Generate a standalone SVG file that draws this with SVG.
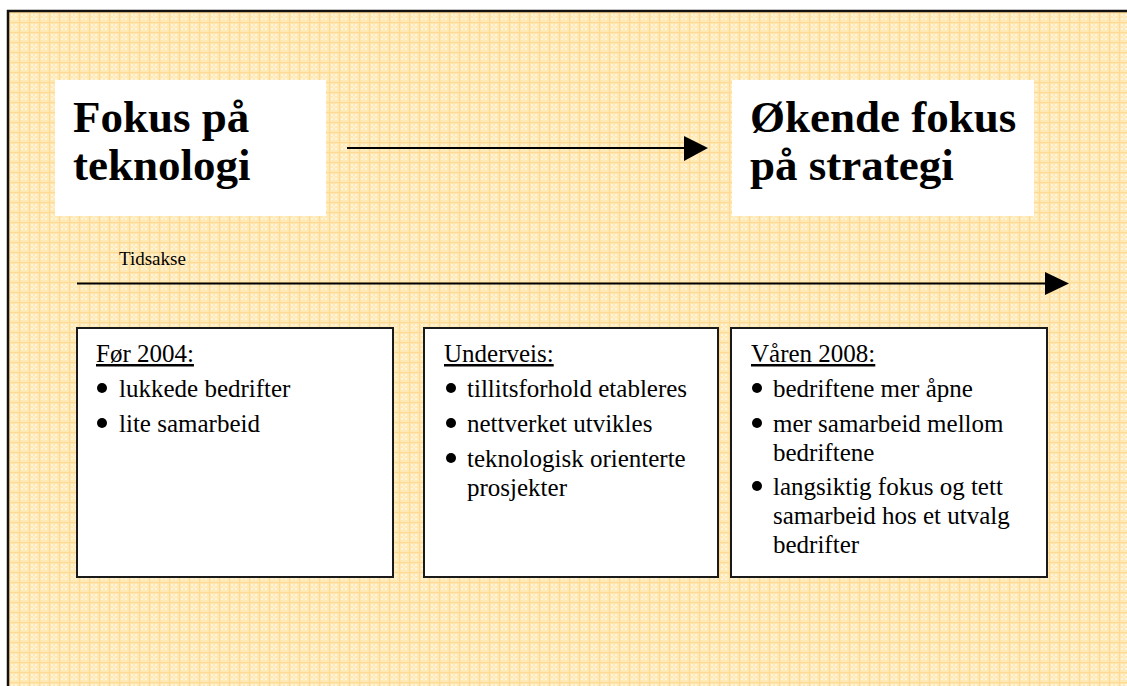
<svg xmlns="http://www.w3.org/2000/svg" width="1127" height="686" viewBox="0 0 1127 686">
<defs>
<pattern id="grid" x="9" y="12" width="10" height="10" patternUnits="userSpaceOnUse">
<rect width="10" height="10" fill="#FFE9B4"/>
<rect x="2" y="2" width="2" height="2" fill="#FFF5DE"/>
<rect x="6" y="2" width="2" height="2" fill="#FFF5DE"/>
<rect x="2" y="6" width="2" height="2" fill="#FFF5DE"/>
<rect x="6" y="6" width="2" height="2" fill="#FFF5DE"/>
<rect x="4" y="4" width="2" height="2" fill="#FFF1D0"/>
<rect x="0" y="0" width="10" height="1.2" fill="#FFDA96"/>
<rect x="0" y="0" width="1.2" height="10" fill="#FFDA96"/>
</pattern>
<style>
.big{font-family:"Liberation Serif","Times New Roman",serif;font-weight:bold;font-size:45px;fill:#000}
.t{font-family:"Liberation Serif","Times New Roman",serif;font-size:25px;fill:#000}
.h{text-decoration:underline}
.box{fill:#fff;stroke:#1a1a1a;stroke-width:2}
.ln{stroke:#000;stroke-width:2;fill:none}
</style>
</defs>
<rect x="0" y="0" width="1127" height="686" fill="#fff"/>
<rect x="9" y="12" width="1118" height="674" fill="url(#grid)"/>
<path d="M8 686 V11 H1127" fill="none" stroke="#111" stroke-width="2.5"/>

<g id="node-fokus-teknologi">
<rect x="55" y="80" width="271" height="136" fill="#fff"/>
<text class="big" x="73" y="132">Fokus på</text>
<text class="big" x="73" y="180">teknologi</text>
</g>

<g id="node-okende-fokus">
<rect x="732" y="80" width="302" height="136" fill="#fff"/>
<text class="big" x="750" y="132">Økende fokus</text>
<text class="big" x="750" y="180">på strategi</text>
</g>

<g id="label-tidsakse">
<text x="119" y="265" style="font-family:'Liberation Serif','Times New Roman',serif;font-size:19px;fill:#000">Tidsakse</text>
</g>

<g id="connectors">
<line class="ln" x1="347" y1="148" x2="686" y2="148"/>
<polygon points="684,136 708,148 684,161" fill="#000"/>
<line class="ln" x1="77" y1="283.5" x2="1047" y2="283.5"/>
<polygon points="1045,272 1069,283.5 1045,295" fill="#000"/>
</g>

<g id="node-for-2004">
<rect class="box" x="77" y="328" width="316" height="249"/>
<text class="t h" x="96" y="362">Før 2004:</text>
<circle cx="102" cy="388" r="5"/>
<text class="t" x="119" y="397">lukkede bedrifter</text>
<circle cx="102" cy="423" r="5"/>
<text class="t" x="119" y="432">lite samarbeid</text>
</g>

<g id="node-underveis">
<rect class="box" x="424" y="328" width="294" height="249"/>
<text class="t h" x="444" y="362">Underveis:</text>
<circle cx="451" cy="388" r="5"/>
<text class="t" x="467" y="397">tillitsforhold etableres</text>
<circle cx="451" cy="423" r="5"/>
<text class="t" x="467" y="432">nettverket utvikles</text>
<circle cx="451" cy="458" r="5"/>
<text class="t" x="467" y="467">teknologisk orienterte</text>
<text class="t" x="467" y="496">prosjekter</text>
</g>

<g id="node-varen-2008">
<rect class="box" x="731" y="328" width="316" height="249"/>
<text class="t h" x="751" y="362">Våren 2008:</text>
<circle cx="757" cy="388" r="5"/>
<text class="t" x="773" y="397">bedriftene mer åpne</text>
<circle cx="757" cy="423" r="5"/>
<text class="t" x="773" y="432">mer samarbeid mellom</text>
<text class="t" x="773" y="461">bedriftene</text>
<circle cx="757" cy="486" r="5"/>
<text class="t" x="773" y="495">langsiktig fokus og tett</text>
<text class="t" x="773" y="524">samarbeid hos et utvalg</text>
<text class="t" x="773" y="553">bedrifter</text>
</g>
</svg>
